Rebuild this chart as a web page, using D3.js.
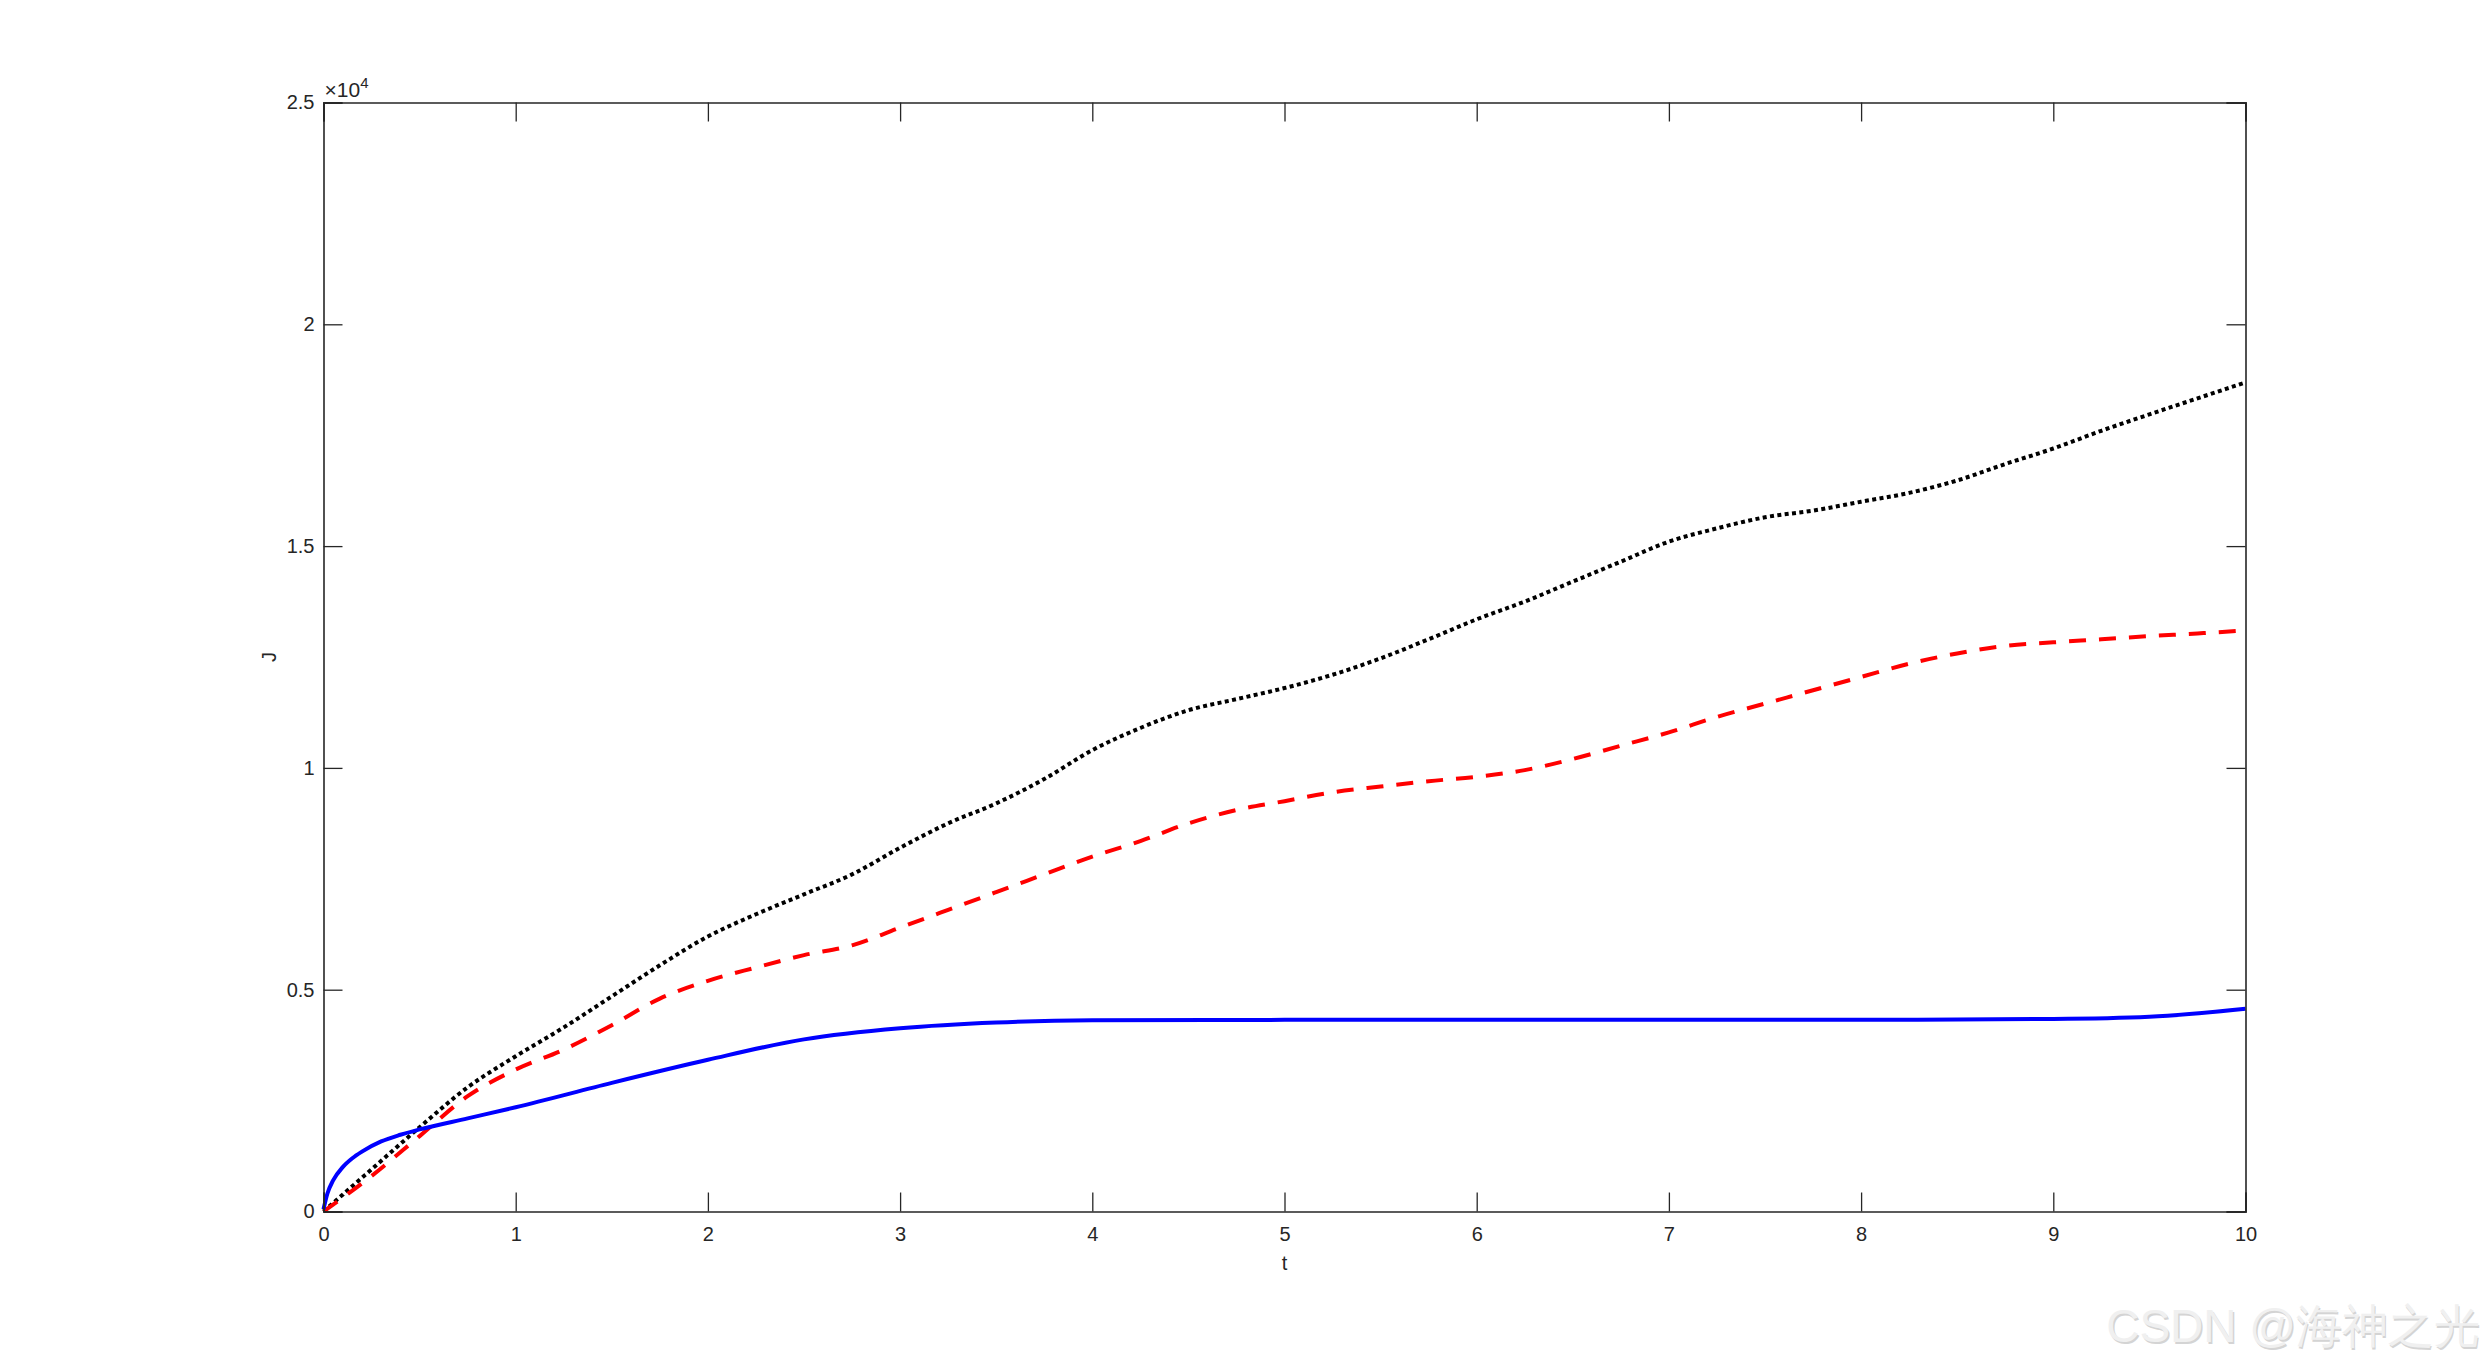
<!DOCTYPE html>
<html>
<head>
<meta charset="utf-8">
<script src="https://cdnjs.cloudflare.com/ajax/libs/d3/7.8.5/d3.min.js"></script>
<style>
  html, body { margin: 0; padding: 0; background: #fff; }
  svg { display: block; }
  text { font-family: "Liberation Sans", Arial, Helvetica, sans-serif; fill: #262626; }
</style>
</head>
<body>
<script>
// ---- Data (values in units of 1e4) ----
const xTicks = [0, 1, 2, 3, 4, 5, 6, 7, 8, 9, 10];
const yTicks = [0, 0.5, 1, 1.5, 2, 2.5];
const yTickLabels = ["0", "0.5", "1", "1.5", "2", "2.5"];
const xLabel = "t";
const yLabel = "J";

const tBlue = [0, 0.02, 0.05, 0.1, 0.15, 0.2, 0.3, 0.4, 0.5, 0.75, 1.0, 1.5, 2.0, 2.5, 3.0, 3.5, 4.0, 5.0, 6.0, 7.0, 8.0, 8.5, 9.0, 9.5, 10];
const jBlue = [0.005, 0.04, 0.07, 0.1, 0.12, 0.135, 0.158, 0.173, 0.185, 0.21, 0.235, 0.29, 0.342, 0.388, 0.413, 0.426, 0.431, 0.432, 0.432, 0.432, 0.432, 0.433, 0.434, 0.439, 0.457];

const tSeries = [0, 0.25, 0.5, 0.75, 1.0, 1.25, 1.5, 1.75, 2.0, 2.25, 2.5, 2.75, 3.0, 3.25, 3.5, 3.75, 4.0, 4.25, 4.5, 4.75, 5.0, 5.25, 5.5, 5.75, 6.0, 6.25, 6.5, 6.75, 7.0, 7.25, 7.5, 7.75, 8.0, 8.25, 8.5, 8.75, 9.0, 9.25, 9.5, 9.75, 10];
const jRed = [0, 0.08, 0.17, 0.26, 0.32, 0.365, 0.42, 0.48, 0.52, 0.55, 0.578, 0.60, 0.64, 0.68, 0.72, 0.76, 0.80, 0.835, 0.875, 0.905, 0.925, 0.945, 0.958, 0.97, 0.98, 0.995, 1.02, 1.05, 1.08, 1.115, 1.145, 1.175, 1.205, 1.235, 1.258, 1.275, 1.283, 1.29, 1.297, 1.303, 1.31];
const jBlack = [0, 0.095, 0.19, 0.28, 0.35, 0.415, 0.485, 0.555, 0.62, 0.67, 0.715, 0.76, 0.82, 0.875, 0.92, 0.975, 1.04, 1.09, 1.13, 1.155, 1.18, 1.21, 1.247, 1.29, 1.335, 1.375, 1.42, 1.465, 1.51, 1.54, 1.565, 1.58, 1.60, 1.62, 1.648, 1.685, 1.72, 1.76, 1.797, 1.833, 1.869];

// ---- Layout ----
const W = 2482, H = 1362;
const L = 323.5, R = 2245.5, T = 102.5, B = 1211.5;

const svg = d3.select("body").append("svg").attr("width", W).attr("height", H);
svg.append("rect").attr("width", W).attr("height", H).attr("fill", "#fff");

const x = d3.scaleLinear().domain([0, 10]).range([L, R]);
const y = d3.scaleLinear().domain([0, 2.5]).range([B, T]);

const clip = svg.append("clipPath").attr("id", "clip");
clip.append("rect").attr("x", L - 3).attr("y", T).attr("width", R - L + 6).attr("height", B - T + 3);

const line = d3.line().x(d => x(d[0])).y(d => y(d[1])).curve(d3.curveMonotoneX);

const lines = svg.append("g").attr("clip-path", "url(#clip)");
lines.append("path")
  .attr("d", line(tSeries.map((t, i) => [t, jBlack[i]])))
  .attr("fill", "none").attr("stroke", "#000").attr("stroke-width", 4)
  .attr("stroke-dasharray", "4,3.4");
lines.append("path")
  .attr("d", line(tSeries.map((t, i) => [t, jRed[i]])))
  .attr("fill", "none").attr("stroke", "#ff0000").attr("stroke-width", 4)
  .attr("stroke-dasharray", "17,13");
lines.append("path")
  .attr("d", line(tBlue.map((t, i) => [t, jBlue[i]])))
  .attr("fill", "none").attr("stroke", "#0000ff").attr("stroke-width", 4);

// ---- Axes ----
const axColor = "#262626";
const tickLen = 19;

const xAxisB = d3.axisBottom(x).tickValues(xTicks).tickSize(-tickLen).tickPadding(15).tickFormat(d3.format("d"));
const xAxisT = d3.axisTop(x).tickValues(xTicks).tickSize(-tickLen).tickFormat("");
const yAxisL = d3.axisLeft(y).tickValues(yTicks).tickSize(-tickLen).tickPadding(9).tickFormat((d, i) => yTickLabels[i]);
const yAxisR = d3.axisRight(y).tickValues(yTicks).tickSize(-tickLen).tickFormat("");

function style(g) {
  g.selectAll("path.domain").attr("stroke", axColor).attr("stroke-width", 1.6);
  g.selectAll(".tick line").attr("stroke", axColor).attr("stroke-width", 1.3);
  g.selectAll(".tick text").attr("fill", axColor).attr("font-size", 20)
    .attr("font-family", '"Liberation Sans", Arial, sans-serif');
}
svg.append("g").attr("transform", `translate(0,${B})`).call(xAxisB).call(style);
svg.append("g").attr("transform", `translate(0,${T})`).call(xAxisT).call(style);
svg.append("g").attr("transform", `translate(${L},0)`).call(yAxisL).call(style);
svg.append("g").attr("transform", `translate(${R},0)`).call(yAxisR).call(style);

// Exponent label
const ex = svg.append("text").attr("x", L + 1).attr("y", T - 6).attr("font-size", 21);
ex.append("tspan").text("\u00d710");
ex.append("tspan").attr("dy", -9).attr("font-size", 15).text("4");

// Axis labels
svg.append("text").attr("x", (L + R) / 2).attr("y", B + 58).attr("text-anchor", "middle")
  .attr("font-size", 20).text(xLabel);
svg.append("text").attr("transform", `translate(${L - 48},${(T + B) / 2}) rotate(-90)`)
  .attr("text-anchor", "middle").attr("font-size", 20).text(yLabel);

// Watermark
const wm = "CSDN @海神之光";
svg.append("text").attr("x", 2481.5).attr("y", 1343.5).attr("text-anchor", "end")
  .attr("font-size", 46).attr("font-family", '"Liberation Sans", "Noto Sans CJK SC", sans-serif')
  .style("fill", "#d4d4d4").text(wm);
svg.append("text").attr("x", 2480).attr("y", 1342).attr("text-anchor", "end")
  .attr("font-size", 46).attr("font-family", '"Liberation Sans", "Noto Sans CJK SC", sans-serif')
  .style("fill", "#f0f0f0").text(wm);
</script>
</body>
</html>
